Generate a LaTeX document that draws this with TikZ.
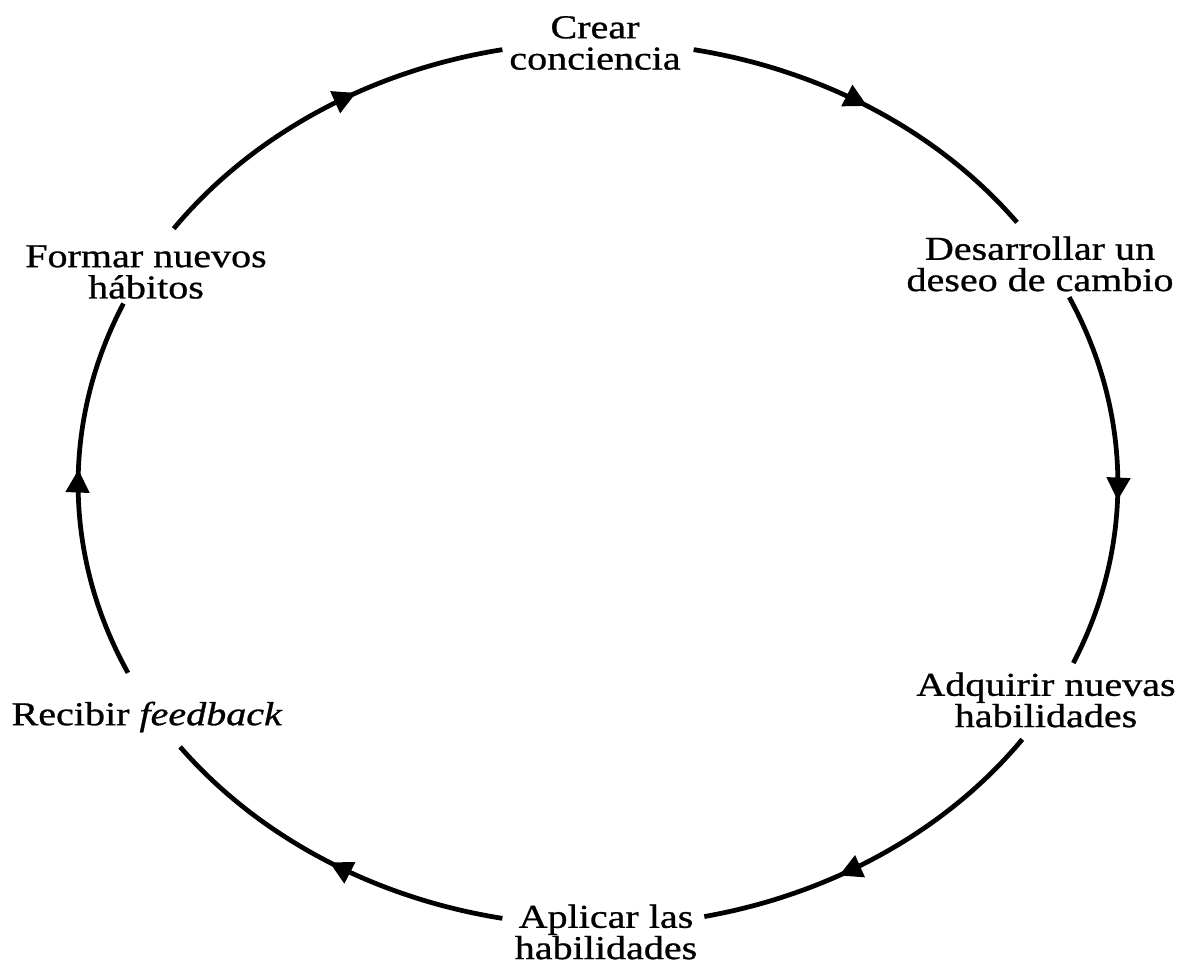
\documentclass[tikz,border=0pt]{standalone}
\usepackage{fontspec}
\setmainfont{Liberation Serif}[FakeStretch=1.2, FakeBold=0.8]
\usetikzlibrary{arrows.meta,decorations.markings}

\tikzset{
  stage/.style={align=center, inner sep=0pt,
    font=\fontsize{19}{17.8}\selectfont},
  cyc/.style={line width=2.7pt, line cap=butt,
    postaction={decorate},
    decoration={markings,
      mark=at position #1 with {\arrow{Triangle[length=0.46cm,width=0.46cm]}}}},
  cyc/.default=0.55,
  onring/.style={x radius=10.4cm, y radius=8.84cm}
}

\begin{document}
\begin{tikzpicture}[x=0.02cm, y=0.02cm]
  \useasboundingbox (0,0) rectangle (1189,964);
  \coordinate (O) at (598,480);

  % the six stages
  \node[stage] (s1) at (595,921) {Crear\\conciencia};
  \node[stage] (s2) at (1040,700) {Desarrollar un\\deseo de cambio};
  \node[stage] (s3) at (1046,264) {Adquirir nuevas\\habilidades};
  \node[stage] (s4) at (606,32) {Aplicar las\\habilidades};
  \node[stage] (s5) at (147,247) {Recibir \textit{feedback}};
  \node[stage] (s6) at (146,692) {Formar nuevos\\hábitos};

  % arc end points on the ellipse, between the stages
  \path (O) ++(79.4:10.4cm and 8.84cm)  coordinate (a1);
  \path (O) ++(25:10.4cm and 8.84cm)    coordinate (a2);
  \path (O) ++(-35.3:10.4cm and 8.84cm) coordinate (a3);
  \path (O) ++(259.4:10.4cm and 8.84cm) coordinate (a4);
  \path (O) ++(205.3:10.4cm and 8.84cm) coordinate (a5);
  \path (O) ++(144.7:10.4cm and 8.84cm) coordinate (a6);

  % clockwise arcs of the cycle
  \draw[cyc=0.49]  (a1) arc[onring, start angle=79.4,  end angle=36.3];
  \draw[cyc=0.555] (a2) arc[onring, start angle=25,    end angle=-23.9];
  \draw[cyc=0.62]  (a3) arc[onring, start angle=-35.3, end angle=-78.2];
  \draw[cyc=0.49]  (a4) arc[onring, start angle=259.4, end angle=216.5];
  \draw[cyc=0.55]  (a5) arc[onring, start angle=205.3, end angle=155.9];
  \draw[cyc=0.60]  (a6) arc[onring, start angle=144.7, end angle=100.6];
\end{tikzpicture}
\end{document}
